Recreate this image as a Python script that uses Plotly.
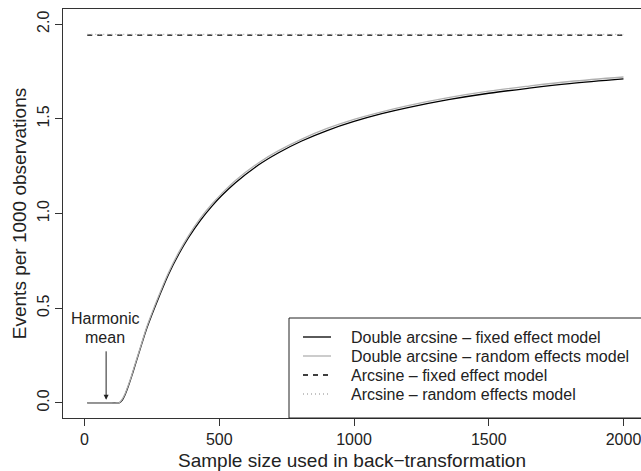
import plotly.graph_objects as go

# Sample size used in back-transformation
n_vals = [10, 50, 100, 128, 140, 150, 160, 175, 190, 212, 230, 249, 275, 311, 350, 385,
          430, 472, 509, 560, 645, 720, 806, 900, 1000, 1103, 1200, 1350, 1500, 1650, 1800, 2000]

# Double arcsine - fixed effect model (events per 1000)
dasin_fixed = [0, 0, 0, 0, 0.015, 0.042, 0.078, 0.141, 0.21, 0.31, 0.39, 0.462, 0.555, 0.677,
               0.786, 0.871, 0.964, 1.038, 1.095, 1.163, 1.256, 1.321, 1.383, 1.438, 1.486,
               1.527, 1.559, 1.601, 1.635, 1.662, 1.686, 1.711]

# Double arcsine - random effects model (events per 1000)
dasin_random = [0, 0, 0, 0, 0.02, 0.047, 0.084, 0.146, 0.216, 0.315, 0.397, 0.47, 0.564,
                0.686, 0.796, 0.881, 0.975, 1.049, 1.105, 1.174, 1.267, 1.332, 1.393, 1.449,
                1.497, 1.537, 1.57, 1.612, 1.646, 1.673, 1.697, 1.721]

# Arcsine models (constant in sample size)
asin_n = [10, 2000]
asin_fixed = [1.942, 1.942]
asin_random = [1.946, 1.946]

harmonic_mean = 80

x_ticks = [0, 500, 1000, 1500, 2000]
y_ticks = [0, 0.5, 1.0, 1.5, 2.0]

series_names = ["Double arcsine \u2013 fixed effect model",
                "Double arcsine \u2013 random effects model",
                "Arcsine \u2013 fixed effect model",
                "Arcsine \u2013 random effects model"]
series_colors = ["black", "#b0b0b0", "black", "#b0b0b0"]
series_dash = ["solid", "solid", "5px,5px", "1px,3px"]

FONT = "Liberation Sans, Arial, Helvetica, sans-serif"
TXT = "#222"

fig = go.Figure()
series = [(n_vals, dasin_fixed), (n_vals, dasin_random), (asin_n, asin_fixed), (asin_n, asin_random)]
for (xs, ys), name, col, dash in zip(series, series_names, series_colors, series_dash):
    fig.add_trace(go.Scatter(x=xs, y=ys, mode="lines", line_shape="spline",
                             line=dict(color=col, width=1.3, dash=dash),
                             name=name, showlegend=False, hoverinfo="skip"))

# Harmonic mean marker
fig.add_annotation(x=harmonic_mean, y=0.016, ax=harmonic_mean, ay=0.28,
                   xref="x", yref="y", axref="x", ayref="y", text="",
                   showarrow=True, arrowhead=2, arrowsize=1, arrowwidth=1, arrowcolor=TXT)
fig.add_annotation(x=harmonic_mean - 4, y=0.448, xref="x", yref="y", text="Harmonic",
                   showarrow=False, font=dict(size=16, color=TXT, family=FONT))
fig.add_annotation(x=harmonic_mean - 4, y=0.343, xref="x", yref="y", text="mean",
                   showarrow=False, font=dict(size=16, color=TXT, family=FONT))

# Legend box (bottom right, like R's legend("bottomright"))
L = 63.0
W = 578.0
T = 9.0
H = 409.0
def px(xp):
    return (xp - L) / W
def py(yp):
    return (T + H - yp) / H

fig.add_shape(type="rect", xref="paper", yref="paper",
              x0=px(289), x1=px(660), y0=py(418), y1=py(318),
              line=dict(color=TXT, width=1), fillcolor="white", layer="above")
row_y = [337, 356, 375, 394]
for name, col, dash, yy in zip(series_names, series_colors, series_dash, row_y):
    fig.add_shape(type="line", xref="paper", yref="paper",
                  x0=px(303), x1=px(331), y0=py(yy), y1=py(yy),
                  line=dict(color=col, width=1.3, dash=dash), layer="above")
    fig.add_annotation(x=px(349), y=py(yy), xref="paper", yref="paper", text=name,
                       xanchor="left", yanchor="middle", showarrow=False,
                       font=dict(size=16, color=TXT, family=FONT))

fig.update_layout(
    width=641, height=471,
    margin=dict(l=63, r=0, t=9, b=53),
    paper_bgcolor="white", plot_bgcolor="white",
    font=dict(family=FONT, size=16, color=TXT),
    showlegend=False, hovermode=False,
)

fig.update_xaxes(range=[-80, 2065], tickvals=x_ticks,
                 showgrid=False, zeroline=False, showline=True, mirror=True,
                 linecolor="#333", linewidth=1, ticks="outside", ticklen=7,
                 tickcolor="#333", automargin=False, ticklabeloverflow="allow",
                 title=dict(text="Sample size used in back\u2212transformation", standoff=8))
fig.update_yaxes(range=[-0.08, 2.08], tickvals=y_ticks,
                 tickformat=".1f", tickangle=-90,
                 showgrid=False, zeroline=False, showline=True, mirror=False,
                 linecolor="#333", linewidth=1, ticks="outside", ticklen=7,
                 tickcolor="#333", automargin=False, ticklabeloverflow="allow",
                 title=dict(text="Events per 1000 observations", standoff=2))

fig.write_html("out.html", config={"displayModeBar": False},
               post_script="document.body.style.margin='0px';document.body.style.overflow='hidden';")
